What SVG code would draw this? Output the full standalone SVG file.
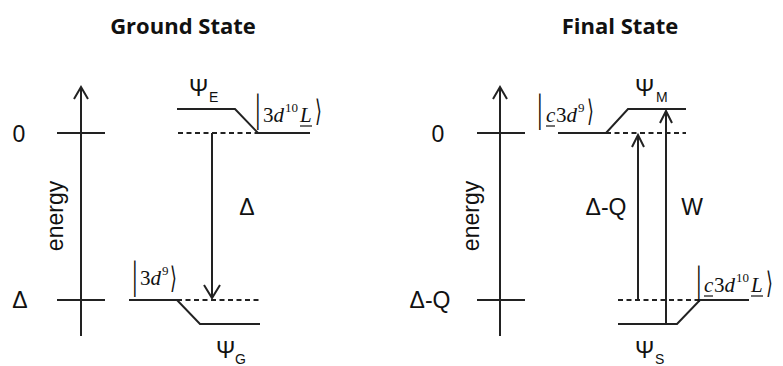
<svg xmlns="http://www.w3.org/2000/svg" width="783" height="366" viewBox="0 0 783 366">
<style>
.ln{stroke:#222;stroke-width:2;fill:none}
.dash{stroke:#222;stroke-width:1.8;fill:none;stroke-dasharray:5 3.5}
.title{font-family:"Open Sans","Liberation Sans",sans-serif;font-weight:bold;font-size:22px;fill:#111;text-anchor:middle}
.lab{font-family:"Liberation Sans",Arial,sans-serif;font-size:23px;fill:#111}
.sub{font-family:"Liberation Sans",Arial,sans-serif;font-size:14px;fill:#111}
.ket{font-family:"Liberation Serif","Times New Roman",serif;font-size:21px;fill:#111;font-style:italic}
.ketn{font-family:"Liberation Serif","Times New Roman",serif;font-size:21px;fill:#111}
.sup{font-family:"Liberation Serif","Times New Roman",serif;font-size:13px;fill:#111}
.bar{font-family:"Liberation Serif",serif;font-size:28px;fill:#111}
.ang{font-family:"DejaVu Sans",sans-serif;font-size:22px;fill:#111}
.ul{stroke:#111;stroke-width:1.2}
</style>

<g id="titles">
<text class="title" x="183" y="34">Ground State</text>
<text class="title" x="620" y="34">Final State</text>
</g>

<g id="axis-ground">
<line class="ln" x1="81" y1="336" x2="81" y2="87"/>
<polyline class="ln" points="74,99 81,87 88,99"/>
<line class="ln" x1="57" y1="133" x2="105" y2="133"/>
<line class="ln" x1="57" y1="300" x2="105" y2="300"/>
<text class="lab" x="19" y="142" text-anchor="middle">0</text>
<text class="lab" x="20" y="308" text-anchor="middle">Δ</text>
<text class="lab" font-size="20" transform="translate(63,216) rotate(-90)" text-anchor="middle">energy</text>
</g>

<g id="axis-final">
<line class="ln" x1="500" y1="336" x2="500" y2="87"/>
<polyline class="ln" points="493,99 500,87 507,99"/>
<line class="ln" x1="477" y1="133" x2="525" y2="133"/>
<line class="ln" x1="477" y1="300" x2="525" y2="300"/>
<text class="lab" x="438" y="142" text-anchor="middle">0</text>
<text class="lab" x="430" y="308" text-anchor="middle">Δ-Q</text>
<text class="lab" font-size="20" transform="translate(479,216) rotate(-90)" text-anchor="middle">energy</text>
</g>

<g id="psi-E">
<polyline class="ln" points="177,109 235,109 258,133 310,133"/>
<line class="dash" x1="178" y1="133" x2="258" y2="133"/>
<text class="lab" x="189" y="96">Ψ</text>
<text class="sub" x="209" y="102">E</text>
</g>

<g id="ket-3d10L-ground">
<text class="bar" transform="translate(255,121) scale(1,1.45)">|</text>
<text class="ketn" x="263" y="122">3<tspan class="ket">d</tspan></text>
<text class="sup" x="285" y="112">10</text>
<text class="ket" x="300" y="122">L</text>
<line class="ul" x1="300" y1="126" x2="312" y2="126"/>
<text class="ang" transform="translate(315,121) scale(0.8,1.35)">⟩</text>
</g>

<g id="psi-G">
<polyline class="ln" points="129,300 177,300 200,324 260,324"/>
<line class="dash" x1="177" y1="300" x2="260" y2="300"/>
<text class="lab" x="216" y="358">Ψ</text>
<text class="sub" x="235" y="364">G</text>
</g>

<g id="ket-3d9">
<text class="bar" transform="translate(132,288) scale(1,1.45)">|</text>
<text class="ketn" x="140" y="285">3<tspan class="ket">d</tspan></text>
<text class="sup" x="162" y="275">9</text>
<text class="ang" transform="translate(170,288) scale(0.8,1.35)">⟩</text>
</g>

<g id="psi-M">
<polyline class="ln" points="558,133 606,133 628,109 686,109"/>
<line class="dash" x1="606" y1="133" x2="686" y2="133"/>
<text class="lab" x="635" y="96">Ψ</text>
<text class="sub" x="656" y="102">M</text>
</g>

<g id="ket-c3d9">
<text class="bar" transform="translate(537,121) scale(1,1.45)">|</text>
<text class="ket" x="546" y="122">c</text>
<line class="ul" x1="546" y1="126" x2="555" y2="126"/>
<text class="ketn" x="556" y="122">3<tspan class="ket">d</tspan></text>
<text class="sup" x="578" y="112">9</text>
<text class="ang" transform="translate(587,121) scale(0.8,1.35)">⟩</text>
</g>

<g id="psi-S">
<polyline class="ln" points="618,324 677,324 700,300 749,300"/>
<line class="dash" x1="618" y1="300" x2="700" y2="300"/>
<text class="lab" x="635" y="358">Ψ</text>
<text class="sub" x="655" y="364">S</text>
</g>

<g id="ket-c3d10L-final">
<text class="bar" transform="translate(696,293) scale(1,1.45)">|</text>
<text class="ket" x="704" y="292">c</text>
<line class="ul" x1="704" y1="296" x2="713" y2="296"/>
<text class="ketn" x="714" y="292">3<tspan class="ket">d</tspan></text>
<text class="sup" x="736" y="282">10</text>
<text class="ket" x="751" y="292">L</text>
<line class="ul" x1="751" y1="296" x2="763" y2="296"/>
<text class="ang" transform="translate(766,293) scale(0.8,1.35)">⟩</text>
</g>

<g id="connectors">
<line class="ln" x1="212" y1="133" x2="212" y2="298"/>
<polyline class="ln" points="204,285 212,298 220,285"/>
<text class="lab" x="247" y="215" text-anchor="middle">Δ</text>
<line class="ln" x1="638" y1="300" x2="638" y2="135"/>
<polyline class="ln" points="632,147 638,135 644,147"/>
<text class="lab" x="606" y="215" text-anchor="middle">Δ-Q</text>
<line class="ln" x1="666" y1="324" x2="666" y2="111"/>
<polyline class="ln" points="660,123 666,111 672,123"/>
<text class="lab" x="692" y="215" text-anchor="middle">W</text>
</g>
</svg>
